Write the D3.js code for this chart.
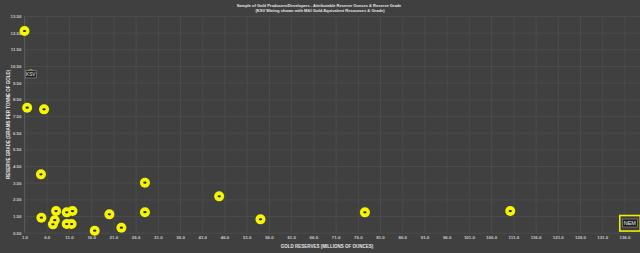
<!DOCTYPE html>
<html>
<head>
<meta charset="utf-8">
<script src="https://cdn.jsdelivr.net/npm/d3@7"></script>
<style>
  html, body { margin: 0; padding: 0; background: #404040; }
  svg { display: block; }
</style>
</head>
<body>
<div id="viz-container"></div>
<script>
// ── Data ─────────────────────────────────────────────────────
const reservesMoz = [1.0, 1.6, 5.4, 4.7, 4.8, 8.1, 7.8, 7.4, 10.5, 11.8, 10.5, 11.6,
                     16.8, 20.1, 22.8, 28.1, 28.1, 44.8, 54.1, 77.6, 110.3];
const gradeGpt    = [12.6, 8.0, 7.9, 4.0, 1.4, 1.8, 1.25, 1.0, 1.72, 1.8, 1.02, 1.02,
                     0.62, 1.6, 0.8, 3.5, 1.73, 2.68, 1.3, 1.72, 1.8];

// labelled companies (shown as boxes instead of markers)
const labelNames = ['KSV', 'NEM'];
const labelX     = [2.4, 137.2];
const labelY     = [10.0, 1.08];

const xTicks = d3.range(1, 137, 5);
const yTicks = d3.range(0.5, 13.6, 1);

const TITLE_1 = 'Sample of Gold Producers/Developers - Attributable Reserve Ounces & Reserve Grade';
const TITLE_2 = '(KSV Mining shown with M&I Gold-Equivalent Resources & Grade)';

// ── Layout ───────────────────────────────────────────────────
const width = 640, height = 253;
const FONT = '"Liberation Sans", Arial, sans-serif';

const x = d3.scaleLinear().domain([1, 139.5]).range([24.5, 640]);
const y = d3.scaleLinear().domain([0.5, 13.5]).range([232.7, 16]);

const svg = d3.select('#viz-container')
  .append('svg')
  .attr('width', width)
  .attr('height', height);

svg.append('rect')
  .attr('width', width).attr('height', height)
  .attr('fill', '#404040');

// ── Grid ─────────────────────────────────────────────────────
const gx = svg.append('g')
  .attr('transform', `translate(0,${y(0.5)})`)
  .call(d3.axisBottom(x).tickValues(xTicks).tickSize(-(y(0.5) - y(13.5))).tickFormat(d3.format('.1f')).tickPadding(3));
gx.select('.domain').remove();
gx.selectAll('line').attr('stroke', '#4e4e4e').attr('stroke-width', 0.8);
gx.selectAll('text')
  .attr('fill', '#c8c8c8').attr('font-size', 4.4).attr('font-family', FONT).attr('font-weight', 700);

const gy = svg.append('g')
  .attr('transform', `translate(${x(1)},0)`)
  .call(d3.axisLeft(y).tickValues(yTicks).tickSize(-(x(139.5) - x(1))).tickFormat(d3.format('.2f')).tickPadding(3));
gy.select('.domain').remove();
gy.selectAll('line').attr('stroke', '#4e4e4e').attr('stroke-width', 0.8);
gy.selectAll('text')
  .attr('fill', '#c8c8c8').attr('font-size', 4.4).attr('font-family', FONT).attr('font-weight', 700);

// left axis line a touch lighter
svg.append('line')
  .attr('x1', x(1)).attr('x2', x(1))
  .attr('y1', y(13.5)).attr('y2', y(0.5))
  .attr('stroke', '#585858').attr('stroke-width', 1);

// ── Points ───────────────────────────────────────────────────
const pts = d3.zip(reservesMoz, gradeGpt);
const pg = svg.append('g');
pg.selectAll('circle')
  .data(pts)
  .join('circle')
  .attr('cx', d => x(d[0]))
  .attr('cy', d => y(d[1]))
  .attr('r', 5)
  .attr('fill', '#f6f600');
pg.selectAll('ellipse')
  .data(pts)
  .join('ellipse')
  .attr('cx', d => x(d[0]))
  .attr('cy', d => y(d[1]))
  .attr('rx', 1.7).attr('ry', 1.1)
  .attr('fill', '#2a2a2a');

// ── Labels ───────────────────────────────────────────────────
const labels = d3.zip(labelNames, labelX, labelY);
labels.forEach(([name, lx, ly]) => {
  const cx = x(lx), cy = y(ly);
  const g = svg.append('g');
  if (name === 'NEM') {
    g.append('rect')
      .attr('x', cx - 10).attr('y', cy - 7.5)
      .attr('width', 20.5).attr('height', 15.5)
      .attr('fill', '#3c3c3c').attr('stroke', '#f0f000').attr('stroke-width', 1.6);
    g.append('rect')
      .attr('x', cx - 7.5).attr('y', cy - 4)
      .attr('width', 15).attr('height', 8)
      .attr('fill', '#1e1e1e').attr('stroke', '#9a9a9a').attr('stroke-width', 0.6);
    g.append('text')
      .attr('x', cx).attr('y', cy).attr('dy', '0.35em')
      .attr('text-anchor', 'middle')
      .attr('fill', '#e8e8e8').attr('font-size', 5.5).attr('font-family', FONT)
      .text(name);
  } else {
    g.append('path')
      .attr('d', `M${cx - 3},${cy - 3.6} Q${cx},${cy - 6} ${cx + 3},${cy - 3.6}`)
      .attr('fill', 'none').attr('stroke', '#c8c800').attr('stroke-width', 0.8);
    g.append('rect')
      .attr('x', cx - 5.5).attr('y', cy - 3.6)
      .attr('width', 11).attr('height', 7.2)
      .attr('fill', '#1e1e1e').attr('stroke', '#9a9a9a').attr('stroke-width', 0.6);
    g.append('text')
      .attr('x', cx).attr('y', cy).attr('dy', '0.35em')
      .attr('text-anchor', 'middle')
      .attr('fill', '#e8e8e8').attr('font-size', 4.6).attr('font-family', FONT)
      .text(name);
  }
});

// ── Titles ───────────────────────────────────────────────────
svg.append('text')
  .attr('x', 319).attr('y', 6.6)
  .attr('text-anchor', 'middle')
  .attr('fill', '#e6e6e6').attr('font-size', 4.0).attr('font-weight', 700).attr('font-family', FONT)
  .text(TITLE_1);
svg.append('text')
  .attr('x', 320).attr('y', 12.2)
  .attr('text-anchor', 'middle')
  .attr('fill', '#e6e6e6').attr('font-size', 4.1).attr('font-weight', 700).attr('font-family', FONT)
  .text(TITLE_2);

svg.append('text')
  .attr('x', 327).attr('y', 247.5)
  .attr('text-anchor', 'middle')
  .attr('fill', '#e6e6e6').attr('font-size', 4.5).attr('font-weight', 700).attr('font-family', FONT)
  .text('GOLD RESERVES (MILLIONS OF OUNCES)');

svg.append('text')
  .attr('transform', `translate(9.5,${(y(0.5) + y(13.5)) / 2}) rotate(-90)`)
  .attr('text-anchor', 'middle')
  .attr('fill', '#e6e6e6').attr('font-size', 4.5).attr('font-weight', 700).attr('font-family', FONT)
  .text('RESERVE GRADE (GRAMS PER TONNE OF GOLD)');
</script>
</body>
</html>
